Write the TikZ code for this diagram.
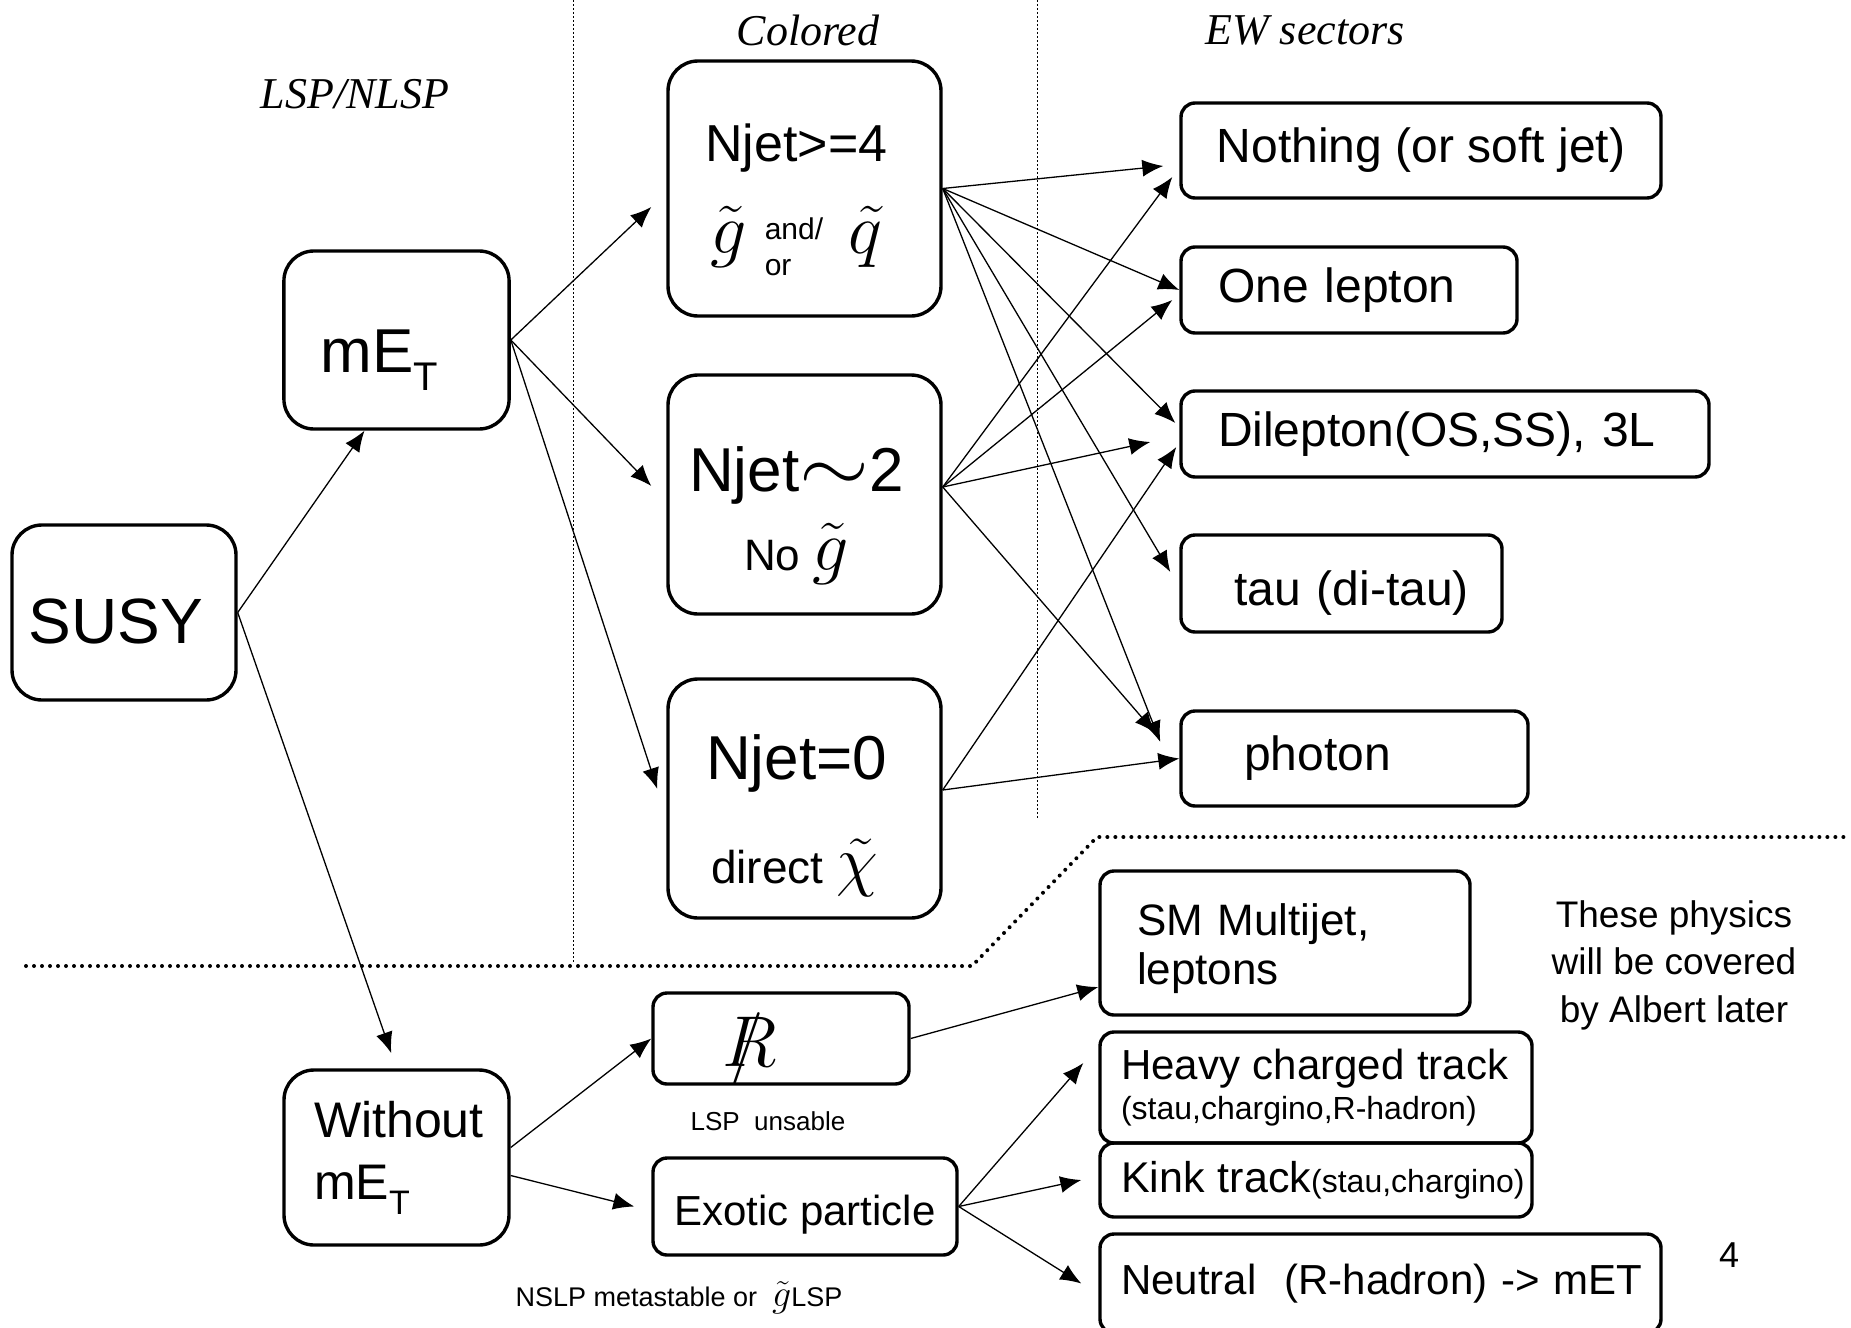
\RequirePackage{fix-cm}
\documentclass[tikz,border=0pt]{standalone}
\usepackage{graphicx}
\usepackage{fontspec}
\setmainfont{Liberation Sans}
\newfontfamily\headfont{Liberation Serif}
\usetikzlibrary{arrows.meta}

\newcommand{\fs}[1]{\fontsize{#1}{1.2\dimexpr#1pt\relax}\selectfont}

\begin{document}
\begin{tikzpicture}[x=0.5pt, y=-0.5pt,
    bigbox/.style={draw, line width=1.7pt, rounded corners=15pt, inner sep=0pt},
    smallbox/.style={draw, line width=1.7pt, rounded corners=7pt, inner sep=0pt},
    arr/.style={-{Latex[length=10.5pt,width=8.5pt]}, line width=0.65pt},
    sepline/.style={line width=0.5pt, dash pattern=on 1pt off 1pt},
    bigdots/.style={line width=2pt, line cap=round, dash pattern=on 0pt off 4pt},
    head/.style={font=\headfont\itshape\fs{22}}]
    \useasboundingbox (0,0) rectangle (1851,1327);

    % Separators
    \draw[sepline] (573,0) -- (573,962);
    \draw[sepline] (1037,0) -- (1037,820);
    \draw[bigdots] (26,966) -- (972,966) -- (1097,837) -- (1851,837);

    % Column titles
    \node[head] (lsp) at (355,94) {LSP/NLSP};
    \node[head] (colored) at (808,30) {Colored};
    \node[head] (ew) at (1305,30) {EW sectors};

    % Left column
    \node[bigbox, minimum width=112pt, minimum height=87.5pt, text height=38pt, text depth=7.5pt,
        font=\fs{32}] (susy) at (124,612.5) {SUSY\hspace*{8pt}};
    \node[bigbox, minimum width=112.5pt, minimum height=89pt, text width=76pt, inner xsep=18.3pt,
        text height=40pt, text depth=8pt, align=left, font=\fs{31}] (met) at (396.5,340)
        {mE\raisebox{-0.3em}{\fs{20}T}};
    \node[bigbox, minimum width=112.5pt, minimum height=87.5pt, text width=82.5pt, inner xsep=15pt,
        align=left, font=\fontsize{25}{31}\selectfont] (without) at (396.5,1157.5)
        {Without\\mE\raisebox{-0.3em}{\fs{17}T}};

    % Colored sector
    \node[bigbox, minimum width=136.5pt, minimum height=127.5pt, align=center,
        font=\fontsize{10}{46}\selectfont] (n4) at (804.5,188.5)
        {\fs{26}\rule{0pt}{30pt}Njet>=4\hspace*{8pt}\\
         \fs{36}$\tilde{g}$\hspace{9pt}{\fs{15}\makebox[29pt][l]{\rlap{\raisebox{7pt}{and/}}\raisebox{-11pt}{or}}}%
         \hspace{13pt}$\tilde{q}$\hspace*{8pt}};
    \node[bigbox, minimum width=136.5pt, minimum height=119.5pt, align=center,
        font=\fontsize{10}{39.5}\selectfont] (n2) at (804.5,494.5)
        {\fs{31}\rule{0pt}{43pt}Njet\scalebox{1.45}[1.25]{$\sim$}2\hspace*{8pt}\\
         \fs{22}No \fs{36}$\tilde{g}$\hspace*{8pt}};
    \node[bigbox, minimum width=136.5pt, minimum height=119.5pt, align=center,
        font=\fontsize{10}{52}\selectfont] (n0) at (804.5,798.5)
        {\fs{31}\rule{0pt}{40pt}Njet=0\hspace*{8pt}\\
         \fs{23}direct \fs{34}$\tilde{\chi}$\hspace*{10pt}};

    % EW sectors
    \node[smallbox, minimum width=240pt, minimum height=47.5pt, font=\fs{24}] (nothing) at (1421,150.5)
        {Nothing (or soft jet)};
    \node[smallbox, minimum height=43pt, text width=131pt, inner xsep=18.5pt, align=left, font=\fs{24}]
        (onelep) at (1349,290) {\mbox{One lepton}};
    \node[smallbox, minimum height=43pt, text width=227pt, inner xsep=18.5pt, align=left, font=\fs{24}]
        (dilep) at (1445,434) {\mbox{Dilepton(OS,SS), 3L}};
    \node[smallbox, minimum height=48.5pt, text width=107.5pt, inner xsep=26.5pt, align=left,
        text height=25pt, text depth=3.5pt, font=\fs{24}]
        (tau) at (1341.5,583.5) {\mbox{tau (di-tau)}};
    \node[smallbox, minimum height=47.5pt, text width=110.5pt, inner xsep=31.5pt, align=left, font=\fs{24}]
        (photon) at (1354.5,758.5) {\mbox{photon}};

    % Without mET
    \node[smallbox, minimum width=128pt, minimum height=45.5pt, text height=32pt, text depth=4.5pt,
        font=\fs{36}] (rpv) at (781,1038.5)
        {\rlap{\hspace{0.1em}$/$}$R$\hspace*{31pt}};
    \node[smallbox, minimum width=152pt, minimum height=48.5pt, text height=24pt, text depth=5.5pt,
        font=\fs{21}] (exotic) at (805,1206.5) {Exotic particle};
    \node[font=\fs{13}] (unsable) at (768,1121) {LSP\ \ unsable};
    \node[font=\fs{13.5}] (nslp) at (679,1298) {NSLP metastable or \ {\fs{19}$\tilde{g}$}LSP};

    \node[smallbox, minimum height=72pt, text width=148pt, inner xsep=18.5pt, align=left,
        font=\fontsize{22}{24.5}\selectfont] (smmj) at (1285,943) {\rule{0pt}{22pt}SM Multijet,\\leptons};
    \node[smallbox, minimum height=55.5pt, text width=195pt, inner xsep=10.5pt, align=left,
        font=\fontsize{19}{20}\selectfont] (heavy) at (1316,1087.5)
        {\fs{21}\mbox{Heavy charged track}\\\fs{16}\mbox{(stau,chargino,R-hadron)}};
    \node[smallbox, minimum height=37pt, text width=195pt, inner xsep=10.5pt, align=left,
        font=\fs{20}] (kink) at (1316,1180)
        {\mbox{\fs{21.5}Kink track\fs{16}(stau,chargino)}};
    \node[smallbox, minimum height=49.5pt, text width=259.5pt, inner xsep=10.5pt, align=left, font=\fs{21}]
        (neutral) at (1380.5,1283.5) {\mbox{Neutral\ \ (R-hadron) -> mET}};

    \node[align=center, font=\fontsize{18.5}{23.75}\selectfont] (albert) at (1674,965)
        {These physics\\will be covered\\by Albert later};
    \node[font=\fs{18}] (page) at (1729,1255) {4};

    % SUSY branches
    \draw[arr] (susy.east) -- ([xshift=-16pt]met.south);
    \draw[arr, shorten >=8pt] (susy.east) -- (without.north);

    % mET branches
    \draw[arr] (met.east) -- ([xshift=-7.5pt,yshift=-9.25pt]n4.west);
    \draw[arr] (met.east) -- ([xshift=-7.5pt,yshift=4.25pt]n2.west);
    \draw[arr] (met.east) -- ([xshift=-4.5pt,yshift=4.75pt]n0.west);

    % Njet>=4 fan
    \draw[arr] (n4.east) -- ([xshift=-8pt,yshift=-7.75pt]nothing.west);
    \draw[arr] (n4.east) -- (onelep.west);
    \draw[arr] (n4.east) -- ([xshift=-2pt,yshift=5.5pt]dilep.west);
    \draw[arr] (n4.east) -- ([xshift=-4.5pt,yshift=5.75pt]tau.west);
    \draw[arr] (n4.east) -- ([xshift=-9.5pt,yshift=8.25pt]photon.west);

    % Njet~2 fan
    \coordinate (n2out) at ([yshift=3.75pt]n2.east);
    \draw[arr] (n2out) -- ([xshift=-3.5pt,yshift=-13.25pt]nothing.west);
    \draw[arr] (n2out) -- ([xshift=-3.5pt,yshift=-5pt]onelep.west);
    \draw[arr] (n2out) -- ([xshift=-14.5pt,yshift=-4pt]dilep.west);
    \draw[arr] (n2out) -- ([xshift=-12pt,yshift=12.75pt]photon.west);

    % Njet=0 fan
    \coordinate (n0out) at ([yshift=4.25pt]n0.east);
    \draw[arr] (n0out) -- ([xshift=-1.5pt,yshift=-6.5pt]dilep.west);
    \draw[arr] (n0out) -- (photon.west);

    % Without mET branches
    \coordinate (wo1) at ([yshift=5pt]without.east);
    \coordinate (wo2) at ([yshift=-9pt]without.east);
    \draw[arr] (wo1) -- (rpv.west);
    \draw[arr] (wo2) -- ([xshift=-8.5pt]exotic.west);
    \draw[arr] (rpv.east) -- ([yshift=-22pt]smmj.west);
    \draw[arr] (exotic.east) -- ([xshift=-7.5pt,yshift=12.25pt]heavy.west);
    \draw[arr] (exotic.east) -- ([xshift=-8.5pt]kink.west);
    \draw[arr] (exotic.east) -- ([xshift=-8.5pt]neutral.west);
\end{tikzpicture}
\end{document}
